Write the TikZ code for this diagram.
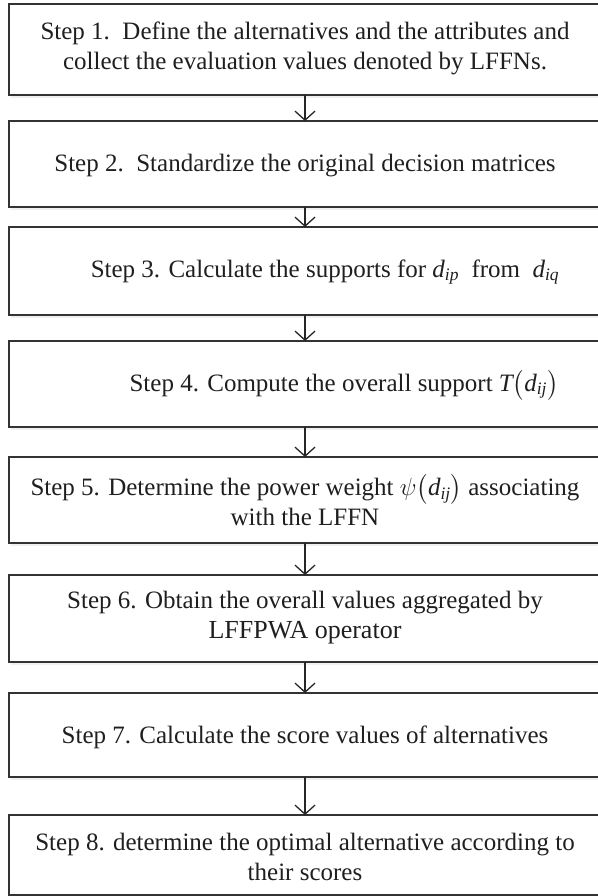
\documentclass[tikz,border=0pt]{standalone}
\usepackage{amsmath}
\usepackage{fontspec}
\setmainfont{Liberation Serif}
\usetikzlibrary{arrows.meta,positioning,shadows}

\newcommand{\dsub}[1]{\mathit{d}_{\mathit{#1}}}

\begin{document}
\begin{tikzpicture}[
    x=1pt, y=-1pt,
    stepbox/.style={rectangle, draw=black!80, line width=1.3pt, minimum width=592pt, outer sep=0pt, inner sep=0pt,
        fill=white, drop shadow={opacity=0.12, shadow xshift=2pt, shadow yshift=-3pt}},
    steptext/.style={align=center, font=\fontsize{25}{30}\selectfont, inner sep=0pt, text=black!88},
    arrow/.style={-{Straight Barb[length=9pt,width=20pt]}, line width=1.3pt, draw=black!85}
]
    \useasboundingbox (0,0) rectangle (597,896);

    % step boxes
    \node[stepbox, minimum height=91pt, anchor=north west] (b1) at (9,4) {};
    \node[stepbox, minimum height=86pt, below=26pt of b1] (b2) {};
    \node[stepbox, minimum height=88pt, below=20pt of b2] (b3) {};
    \node[stepbox, minimum height=86pt, below=26pt of b3] (b4) {};
    \node[stepbox, minimum height=86pt, below=30pt of b4] (b5) {};
    \node[stepbox, minimum height=87pt, below=32pt of b5] (b6) {};
    \node[stepbox, minimum height=84pt, below=31pt of b6] (b7) {};
    \node[stepbox, minimum height=80pt, below=38pt of b7] (b8) {};

    % texts
    \node[steptext] (t1) at ([yshift=1pt]b1.center)
        {Step 1.~~Define the alternatives and the attributes and\\collect the evaluation values denoted by LFFNs.};
    \node[steptext] (t2) at ([yshift=-2pt]b2.center)
        {Step 2.~~Standardize the original decision matrices};
    \node[steptext] (t3) at ([xshift=20pt,yshift=-1pt]b3.center)
        {Step 3. Calculate the supports for $\dsub{ip}$~ from~ $\dsub{iq}$};
    \node[steptext] (t4) at ([xshift=39pt,yshift=-1pt]b4.center)
        {Step 4. Compute the overall support $\mathit{T}\bigl(\dsub{ij}\bigr)$};
    \node[steptext] (t5) at (b5.center)
        {Step 5. Determine the power weight $\psi\bigl(\dsub{ij}\bigr)$ associating\\with the LFFN};
    \node[steptext] (t6) at ([yshift=1pt]b6.center)
        {Step 6. Obtain the overall values aggregated by\\{\fontsize{26}{30}\selectfont LFFPWA operator}};
    \node[steptext] (t7) at ([yshift=-2pt]b7.center)
        {Step 7. Calculate the score values of alternatives};
    \node[steptext] (t8) at ([yshift=-2pt]b8.center)
        {Step 8. determine the optimal alternative according to\\their scores};

    % arrows
    \draw[arrow] (b1) -- (b2);
    \draw[arrow] (b2) -- (b3);
    \draw[arrow] (b3) -- (b4);
    \draw[arrow] (b4) -- (b5);
    \draw[arrow] (b5) -- (b6);
    \draw[arrow] (b6) -- (b7);
    \draw[arrow] (b7) -- (b8);
\end{tikzpicture}
\end{document}
